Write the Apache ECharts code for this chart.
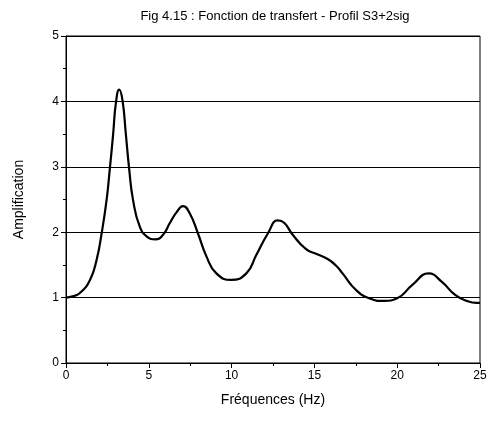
<!DOCTYPE html>
<html><head><meta charset="utf-8">
<script src="https://cdn.jsdelivr.net/npm/echarts@6/dist/echarts.min.js"></script>
<style>html,body{margin:0;padding:0;background:#fff}#c{width:493px;height:423px}</style>
</head><body><div id="c"></div>
<script>
var titleText = 'Fig 4.15 : Fonction de transfert - Profil S3+2sig';
var xName = 'Fréquences (Hz)';
var yName = 'Amplification';
var freq = [0,0.4,0.84,1.45,1.85,2.15,2.45,2.65,2.85,3.01,3.21,3.41,3.61,3.81,4.05,4.46,4.9,5.4,5.86,6.27,6.66,7.07,7.47,7.97,8.48,9.08,9.98,10.89,11.49,12.19,12.79,13.19,13.69,14.5,15.1,15.8,16.3,16.7,17.5,18.3,19.2,20.0,20.9,21.9,22.7,23.5,24.2,24.8,25];
var amp = [1.00,1.02,1.07,1.27,1.58,1.98,2.49,2.98,3.51,3.97,4.18,4.02,3.51,2.98,2.49,2.08,1.93,1.89,1.96,2.14,2.30,2.40,2.29,1.98,1.63,1.37,1.27,1.37,1.65,1.98,2.18,2.14,1.96,1.74,1.67,1.59,1.49,1.37,1.12,0.99,0.95,0.99,1.19,1.37,1.24,1.04,0.95,0.92,0.92];
var data = freq.map(function(f,i){return [f, amp[i]];});
var font = 'Liberation Sans, Arial, sans-serif';
var chart = echarts.init(document.getElementById('c'));
chart.setOption({
  animation:false,
  title:{text:titleText,left:270,top:5,textAlign:'center',textStyle:{fontFamily:font,fontSize:13,fontWeight:'normal',color:'#000'}},
  grid:{left:66,right:13,top:36,bottom:60,show:true,borderColor:'#000',borderWidth:1},
  xAxis:{type:'value',min:0,max:25,interval:5,name:xName,nameLocation:'middle',nameGap:30,
    nameTextStyle:{fontFamily:font,fontSize:14,color:'#000'},
    axisLine:{show:true,lineStyle:{color:'#000',width:1}},
    axisTick:{show:true,inside:false,length:5,lineStyle:{color:'#000'}},
    minorTick:{show:true,splitNumber:2,length:3,lineStyle:{color:'#000'}},
    axisLabel:{fontFamily:font,fontSize:12,color:'#000',margin:7},
    splitLine:{show:false}},
  yAxis:{type:'value',min:0,max:5,interval:1,name:yName,nameLocation:'middle',nameGap:40,
    nameTextStyle:{fontFamily:font,fontSize:14,color:'#000'},
    axisLine:{show:true,lineStyle:{color:'#000',width:1}},
    axisTick:{show:true,inside:false,length:5,lineStyle:{color:'#000'}},
    minorTick:{show:true,splitNumber:2,length:3,lineStyle:{color:'#000'}},
    axisLabel:{fontFamily:font,fontSize:12,color:'#000',margin:7},
    splitLine:{show:true,lineStyle:{color:'#000',width:1}}},
  series:[{type:'line',data:data,smooth:0.5,showSymbol:false,lineStyle:{color:'#000',width:2.2}}]
});
</script></body></html>
